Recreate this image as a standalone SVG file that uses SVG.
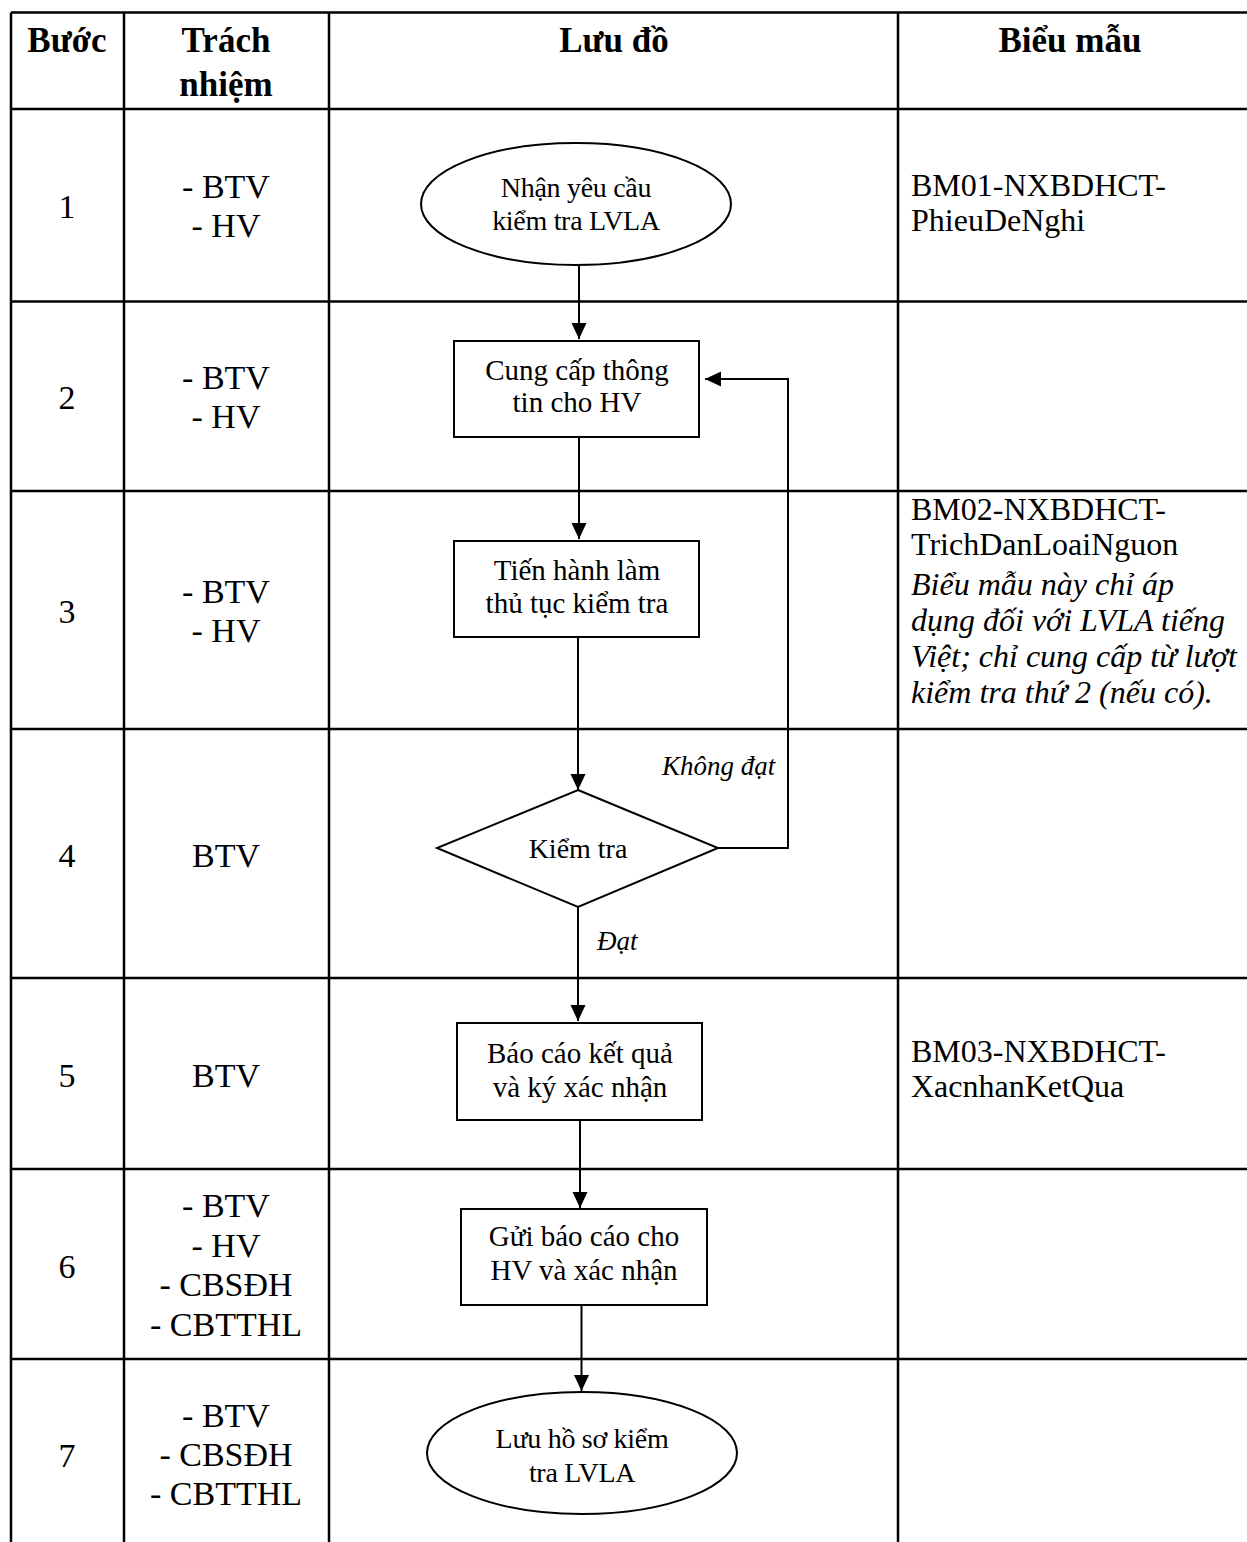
<svg xmlns="http://www.w3.org/2000/svg" width="1247" height="1542" viewBox="0 0 1247 1542">
<style>
.grid{stroke:#000;stroke-width:2.5;fill:none}
.shape{fill:#fff;stroke:#000;stroke-width:2}
.conn{fill:none;stroke:#000;stroke-width:2}
.t{font-family:"Liberation Serif","Times New Roman",serif;fill:#000}
.hd{font-size:35px;font-weight:bold;text-anchor:middle}
.cell{font-size:34px;text-anchor:middle}
.form{font-size:32px}
.note{font-size:32px;font-style:italic}
.box{font-size:29px;text-anchor:middle}
.ell{font-size:28px;text-anchor:middle;letter-spacing:-0.3px}
.dia{font-size:28px;text-anchor:middle}
.lbl{font-size:27px;font-style:italic}
</style>
<defs>
<marker id="arr" markerWidth="17" markerHeight="17" refX="16" refY="8" orient="auto" markerUnits="userSpaceOnUse">
<path d="M0,0.5 L16,8 L0,15.5 Z" fill="#000"/>
</marker>
</defs>
<rect width="1247" height="1542" fill="#fff"/>
<g id="table">
<path class="grid" d="M11,12.5 H1247 M11,109 H1247 M11,301.5 H1247 M11,491 H1247 M11,729 H1247 M11,978 H1247 M11,1169 H1247 M11,1359 H1247 M11,12.5 V1542 M124,12.5 V1542 M329,12.5 V1542 M898,12.5 V1542"/>
</g>
<g id="header" class="t">
<text class="hd" x="67" y="52">Bước</text>
<text class="hd" x="226" y="52">Trách</text>
<text class="hd" x="226" y="96">nhiệm</text>
<text class="hd" x="614" y="52">Lưu đồ</text>
<text class="hd" x="1070" y="52">Biểu mẫu</text>
</g>
<g id="steps" class="t cell">
<text x="67" y="218">1</text>
<text x="67" y="409">2</text>
<text x="67" y="623">3</text>
<text x="67" y="867">4</text>
<text x="67" y="1087">5</text>
<text x="67" y="1278">6</text>
<text x="67" y="1467">7</text>
</g>
<g id="resp" class="t cell">
<text x="226" y="198">- BTV</text>
<text x="226" y="237">- HV</text>
<text x="226" y="389">- BTV</text>
<text x="226" y="428">- HV</text>
<text x="226" y="603">- BTV</text>
<text x="226" y="642">- HV</text>
<text x="226" y="867">BTV</text>
<text x="226" y="1087">BTV</text>
<text x="226" y="1217">- BTV</text>
<text x="226" y="1257">- HV</text>
<text x="226" y="1296">- CBSĐH</text>
<text x="226" y="1336">- CBTTHL</text>
<text x="226" y="1427">- BTV</text>
<text x="226" y="1466">- CBSĐH</text>
<text x="226" y="1505">- CBTTHL</text>
</g>
<g id="forms" class="t">
<text class="form" x="911" y="196">BM01-NXBDHCT-</text>
<text class="form" x="911" y="231">PhieuDeNghi</text>
<text class="form" x="911" y="520">BM02-NXBDHCT-</text>
<text class="form" x="911" y="555">TrichDanLoaiNguon</text>
<text class="note" x="911" y="595">Biểu mẫu này chỉ áp</text>
<text class="note" x="911" y="631">dụng đối với LVLA tiếng</text>
<text class="note" x="911" y="667">Việt; chỉ cung cấp từ lượt</text>
<text class="note" x="911" y="703">kiểm tra thứ 2 (nếu có).</text>
<text class="form" x="911" y="1062">BM03-NXBDHCT-</text>
<text class="form" x="911" y="1097">XacnhanKetQua</text>
</g>
<g id="connectors">
<path class="conn" d="M579,265 V339" marker-end="url(#arr)"/>
<path class="conn" d="M579,437 V539" marker-end="url(#arr)"/>
<path class="conn" d="M578,637 V790" marker-end="url(#arr)"/>
<path class="conn" d="M578,907 V1021" marker-end="url(#arr)"/>
<path class="conn" d="M580,1120 V1208" marker-end="url(#arr)"/>
<path class="conn" d="M581.5,1305 V1391" marker-end="url(#arr)"/>
<path class="conn" d="M718,848 H788 V379 H705" marker-end="url(#arr)"/>
<text class="t lbl" x="662" y="775">Không đạt</text>
<text class="t lbl" x="597" y="950">Đạt</text>
</g>
<g id="n1">
<ellipse class="shape" cx="576" cy="204" rx="155" ry="61"/>
<text class="t ell" x="576" y="197">Nhận yêu cầu</text>
<text class="t ell" x="576" y="230">kiểm tra LVLA</text>
</g>
<g id="n2">
<rect class="shape" x="454" y="341" width="245" height="96"/>
<text class="t box" x="577" y="380">Cung cấp thông</text>
<text class="t box" x="577" y="412">tin cho HV</text>
</g>
<g id="n3">
<rect class="shape" x="454" y="541" width="245" height="96"/>
<text class="t box" x="577" y="580">Tiến hành làm</text>
<text class="t box" x="577" y="613">thủ tục kiểm tra</text>
</g>
<g id="n4">
<path class="shape" d="M578,790 L718,848 L578,907 L437,848 Z"/>
<text class="t dia" x="578" y="858">Kiểm tra</text>
</g>
<g id="n5">
<rect class="shape" x="457" y="1023" width="245" height="97"/>
<text class="t box" x="580" y="1063">Báo cáo kết quả</text>
<text class="t box" x="580" y="1097">và ký xác nhận</text>
</g>
<g id="n6">
<rect class="shape" x="461" y="1209" width="246" height="96"/>
<text class="t box" x="584" y="1246">Gửi báo cáo cho</text>
<text class="t box" x="584" y="1280">HV và xác nhận</text>
</g>
<g id="n7">
<ellipse class="shape" cx="582" cy="1453" rx="155" ry="61"/>
<text class="t ell" x="582" y="1448">Lưu hồ sơ kiểm</text>
<text class="t ell" x="582" y="1482">tra LVLA</text>
</g>
</svg>
